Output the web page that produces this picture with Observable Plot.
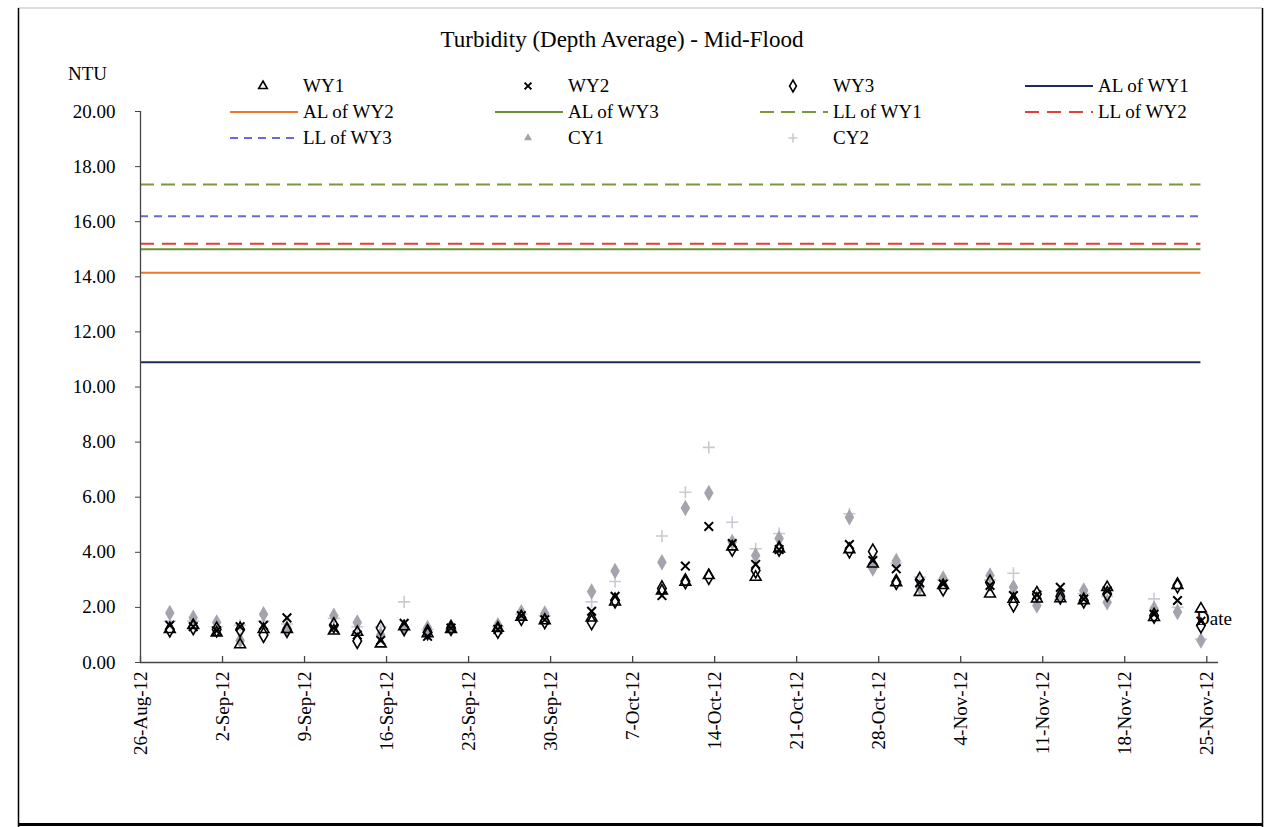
<!DOCTYPE html>
<html><head><meta charset="utf-8">
<script src="https://cdn.jsdelivr.net/npm/d3@7"></script>
<script src="https://cdn.jsdelivr.net/npm/@observablehq/plot@0.6"></script>
<style>
body{margin:0;background:#fff;}
#wrap{position:relative;width:1279px;height:827px;overflow:hidden;background:#fff;}
#chart{position:absolute;left:0;top:0;}
#overlay{position:absolute;left:0;top:0;pointer-events:none;font-family:"Liberation Serif","Times New Roman",serif;}
#overlay text{font-family:"Liberation Serif","Times New Roman",serif;}
</style></head>
<body><div id="wrap"><div id="chart"></div><svg id="overlay" width="1279" height="827"></svg></div>
<script>
// ---- data ----
const dates = ["2012-08-28","2012-08-30","2012-09-01","2012-09-03","2012-09-05","2012-09-07",
  "2012-09-11","2012-09-13","2012-09-15","2012-09-17","2012-09-19","2012-09-21",
  "2012-09-25","2012-09-27","2012-09-29","2012-10-03","2012-10-05","2012-10-09",
  "2012-10-11","2012-10-13","2012-10-15","2012-10-17","2012-10-19","2012-10-25",
  "2012-10-27","2012-10-29","2012-10-31","2012-11-02","2012-11-06","2012-11-08",
  "2012-11-10","2012-11-12","2012-11-14","2012-11-16","2012-11-20","2012-11-22","2012-11-24"];
const wy1 = [1.20,1.35,1.08,0.65,1.20,1.20,1.15,1.10,0.68,1.30,1.05,1.20,1.25,1.65,1.52,1.62,2.20,2.60,2.92,3.16,4.20,3.10,4.13,4.10,3.58,2.90,2.55,2.80,2.49,2.30,2.31,2.32,2.25,2.73,1.64,2.80,1.95];
const wy2 = [1.35,1.30,1.15,1.30,1.35,1.62,1.25,1.00,0.80,1.42,0.95,1.25,1.20,1.70,1.55,1.86,2.40,2.43,3.50,4.94,4.32,3.56,4.10,4.28,3.70,3.40,2.90,2.85,2.80,2.43,2.45,2.73,2.30,2.60,1.75,2.25,1.50];
const wy3 = [1.20,1.28,1.20,1.20,1.00,1.18,1.35,0.78,1.25,1.25,1.10,1.25,1.15,1.62,1.50,1.46,2.25,2.69,2.95,3.10,4.13,3.34,4.13,4.07,4.03,2.92,3.00,2.69,2.90,2.11,2.49,2.40,2.25,2.49,1.70,2.80,1.34];
const cy1 = [1.80,1.62,1.45,0.80,1.75,1.25,1.70,1.45,1.00,1.20,1.25,1.30,1.35,1.82,1.78,2.58,3.32,3.64,5.61,6.15,4.37,3.88,4.50,5.27,3.41,3.68,2.73,3.05,3.16,2.73,2.07,2.49,2.61,2.19,1.95,1.83,0.80];
const cy2 = [1.50,1.50,1.30,1.35,1.50,1.40,1.60,1.30,1.30,2.20,1.20,1.20,1.30,1.75,1.70,2.20,2.94,4.59,6.18,7.81,5.09,4.13,4.68,5.40,3.50,3.60,3.10,3.00,3.00,3.24,2.20,2.30,2.50,2.40,2.31,2.00,0.85];
const seriesNames = ["WY1","WY2","WY3","CY1","CY2"];
const seriesValues = [wy1, wy2, wy3, cy1, cy2];
const limitNames = ["AL of WY1","AL of WY2","AL of WY3","LL of WY1","LL of WY2","LL of WY3"];
const limitValues = [10.9, 14.15, 15.0, 17.35, 15.2, 16.2];
const legendOrder = ["WY1","WY2","WY3","AL of WY1","AL of WY2","AL of WY3","LL of WY1","LL of WY2","LL of WY3","CY1","CY2"];
const yTicks = [0,2,4,6,8,10,12,14,16,18,20];
const xTickStrings = ["2012-08-26","2012-09-02","2012-09-09","2012-09-16","2012-09-23","2012-09-30","2012-10-07","2012-10-14","2012-10-21","2012-10-28","2012-11-04","2012-11-11","2012-11-18","2012-11-25"];
const titleText = "Turbidity (Depth Average) - Mid-Flood";
const yLabel = "NTU", xLabel = "Date";

// ---- styles ----
const FONT = "Liberation Serif, Times New Roman, serif";
const markerStyle = {
  WY1: {symbol: "triangle", d3s: d3.symbolTriangle, fill: "none", stroke: "#000", r: 4, sw: 1.6},
  WY2: {symbol: "times", d3s: d3.symbolTimes, fill: "none", stroke: "#000", r: 4, sw: 2},
  WY3: {symbol: "diamond", d3s: d3.symbolDiamond, fill: "none", stroke: "#000", r: 4.5, sw: 1.6},
  CY1: {symbol: "diamond", d3s: d3.symbolTriangle, fill: "#a4a4ae", stroke: "none", r: 5, sw: 0, legendR: 3},
  CY2: {symbol: "plus", d3s: d3.symbolPlus, fill: "none", stroke: "#cacad2", r: 4, sw: 1.6, legendR: 3}
};
const lineStyle = {
  "AL of WY1": {stroke: "#1f2c56", dash: null},
  "AL of WY2": {stroke: "#f07628", dash: null},
  "AL of WY3": {stroke: "#6a9232", dash: null},
  "LL of WY1": {stroke: "#7d983a", dash: "14,7"},
  "LL of WY2": {stroke: "#e0403a", dash: "14,8"},
  "LL of WY3": {stroke: "#6a6ad6", dash: "8,6"}
};

const parse = s => new Date(s + "T00:00:00Z");
const noon = s => new Date(s + "T12:00:00Z");
const xTicks = xTickStrings.map(parse);
const xStart = xTicks[0];
const xEnd = new Date(Date.UTC(2012, 10, 26));
const lastData = noon(dates[dates.length - 1]);

const recs = {};
seriesNames.forEach((n, i) => {
  recs[n] = dates.map((d, j) => ({date: noon(d), value: seriesValues[i][j], series: n}));
});
const limits = limitNames.map((n, i) => ({name: n, value: limitValues[i]}));

const marks = [];
limits.forEach(l => {
  marks.push(Plot.ruleY([l], {y: "value", x1: () => xStart, x2: () => lastData,
    stroke: lineStyle[l.name].stroke, strokeWidth: 2, strokeDasharray: lineStyle[l.name].dash || undefined}));
});
marks.push(Plot.ruleY([0], {stroke: "#444", strokeWidth: 1.3}));
marks.push(Plot.ruleX([xStart], {y1: 0, y2: 20, stroke: "#444", strokeWidth: 1.3}));
marks.push(Plot.ruleX(xTicks, {x: d => d, y1: 0, y2: 0.22, stroke: "#444", strokeWidth: 1.3}));
["CY2","CY1","WY3","WY2","WY1"].forEach(n => {
  const s = markerStyle[n];
  marks.push(Plot.dot(recs[n], {x: "date", y: "value", symbol: s.symbol, r: s.r,
    fill: s.fill, stroke: s.stroke, strokeWidth: s.sw}));
});
marks.push(Plot.axisY({ticks: yTicks, tickFormat: d3.format(".2f"), tickSize: 5, tickPadding: 20,
  fontSize: 19, label: null, stroke: "#444"}));
marks.push(Plot.axisX({ticks: xTicks, tickFormat: d3.utcFormat("%-d-%b-%y"), tickRotate: -90,
  tickSize: 0, tickPadding: 9, fontSize: 19, label: null}));

const chart = Plot.plot({
  width: 1279, height: 780,
  marginLeft: 140, marginRight: 61, marginTop: 111, marginBottom: 118,
  style: {fontFamily: FONT, color: "#000", background: "transparent"},
  x: {type: "utc", domain: [xStart, xEnd]},
  y: {domain: [0, 20]},
  marks
});
document.getElementById("chart").appendChild(chart);

// ---- overlay: frame, title, legend, axis titles ----
const svg = d3.select("#overlay");
svg.append("line").attr("x1", 18).attr("x2", 1262).attr("y1", 8).attr("y2", 8).attr("stroke", "#bbb").attr("stroke-width", 1);
svg.append("line").attr("x1", 18.5).attr("x2", 18.5).attr("y1", 8).attr("y2", 827).attr("stroke", "#000").attr("stroke-width", 1.5);
svg.append("line").attr("x1", 1262.5).attr("x2", 1262.5).attr("y1", 8).attr("y2", 827).attr("stroke", "#000").attr("stroke-width", 1.5);
svg.append("line").attr("x1", 18).attr("x2", 1263).attr("y1", 824.5).attr("y2", 824.5).attr("stroke", "#000").attr("stroke-width", 3);

const txt = (x, y, size, s) => svg.append("text").attr("x", x).attr("y", y)
  .attr("font-family", FONT).attr("font-size", size).attr("fill", "#000").text(s);
txt(622, 47, 23, titleText).attr("text-anchor", "middle");
txt(68, 80, 19, yLabel);
txt(1196, 625, 19, xLabel);

const colX = [230, 495, 760, 1025];
const rowY = [86, 112, 138];
legendOrder.forEach((name, i) => {
  const cx = colX[i % 4], cy = rowY[Math.floor(i / 4)];
  if (markerStyle[name]) {
    const s = markerStyle[name];
    const rr = s.legendR || s.r * 0.8;
    svg.append("path").attr("transform", `translate(${cx + 33},${cy})`)
      .attr("d", d3.symbol(s.d3s, Math.PI * rr * rr)())
      .attr("fill", s.fill).attr("stroke", s.stroke).attr("stroke-width", s.sw);
  } else {
    const s = lineStyle[name];
    svg.append("line").attr("x1", cx).attr("x2", cx + 68).attr("y1", cy).attr("y2", cy)
      .attr("stroke", s.stroke).attr("stroke-width", 2).attr("stroke-dasharray", s.dash);
  }
  txt(cx + 73, cy + 6, 19, name);
});
</script></body></html>
